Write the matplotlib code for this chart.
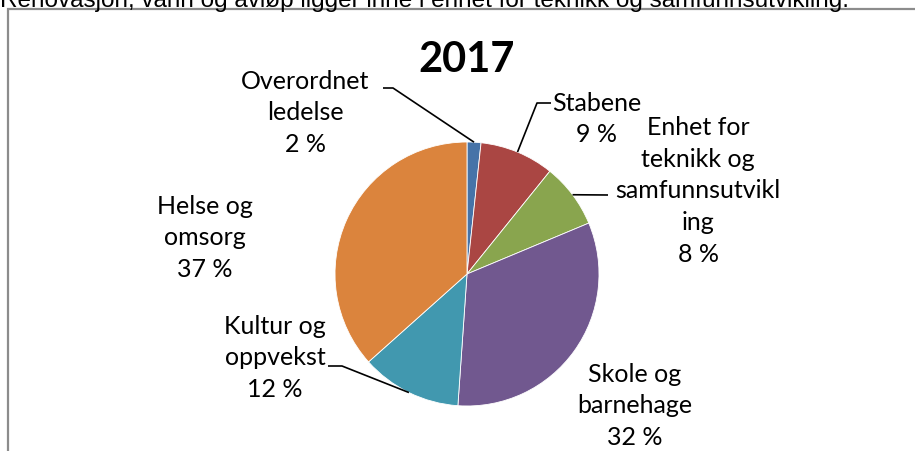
import numpy as np
import matplotlib
matplotlib.use('Agg')
import matplotlib.pyplot as plt
import matplotlib.patches as mpatches

# data
sectors = ['Overordnet\nledelse', 'Stabene', 'Enhet for\nteknikk og\nsamfunnsutvikl\ning',
           'Skole og\nbarnehage', 'Kultur og\noppvekst', 'Helse og\nomsorg']
shares = [1.7, 9.1, 7.9, 32.4, 12.3, 36.6]
colors = ['#4673A8', '#AA4643', '#89A54E', '#71588F', '#4198AF', '#DB843D']
title = '2017'
note = 'Renovasjon, vann og avløp ligger inne i enhet for teknikk og samfunnsutvikling.'

W, H = 915, 452
fig = plt.figure(figsize=(W / 100, H / 100), dpi=100)
ax = fig.add_axes([0, 0, 1, 1])

cx, cy, r = 467, H - 275, 132
wedges, _ = ax.pie(shares, colors=colors, startangle=90, counterclock=False,
                   center=(cx, cy), radius=r, frame=True,
                   wedgeprops=dict(edgecolor='white', linewidth=0.6))
ax.set_xlim(0, W)
ax.set_ylim(0, H)
ax.set_aspect('equal')
ax.axis('off')

# chart frame (runs off the right and bottom like the screenshot)
ax.add_patch(mpatches.Rectangle((8, -10), W + 20, H, fill=False,
                                edgecolor='#8C8C8C', linewidth=1.6, clip_on=False))

fig.text(0.0, (H - 7) / H, note, fontsize=17.5, family='Liberation Sans',
         va='baseline', ha='left')

lab_font = dict(fontsize=18, family='Lato', ha='center', va='center', linespacing=1.45)
ax.text(cx, H - 60, title, fontsize=30, family='Lato', weight='bold',
        ha='center', va='center')

# label centre (px, from top) and elbow of leader line (None = no leader)
label_pos = [(305, 113), (597, 119), (698, 191), (635, 406), (275, 358), (205, 238)]
elbows = [((393, 89), (383, 89)), ((537, 104), (551, 104)), ((608, 196), None),
          None, ((342, 367), (328, 367)), None]

for w, name, val, (lx, ly), el in zip(wedges, sectors, shares, label_pos, elbows):
    ax.text(lx, H - ly, f'{name}\n{round(val)} %', **lab_font)
    if el is None:
        continue
    mid = np.deg2rad((w.theta1 + w.theta2) / 2)
    ex, ey = cx + r * np.cos(mid), cy + r * np.sin(mid)
    xs, ys = [ex, el[0][0]], [ey, H - el[0][1]]
    if el[1] is not None:
        xs.append(el[1][0])
        ys.append(H - el[1][1])
    ax.plot(xs, ys, color='black', linewidth=1.2, solid_capstyle='butt')

fig.savefig('out.png', dpi=100)
